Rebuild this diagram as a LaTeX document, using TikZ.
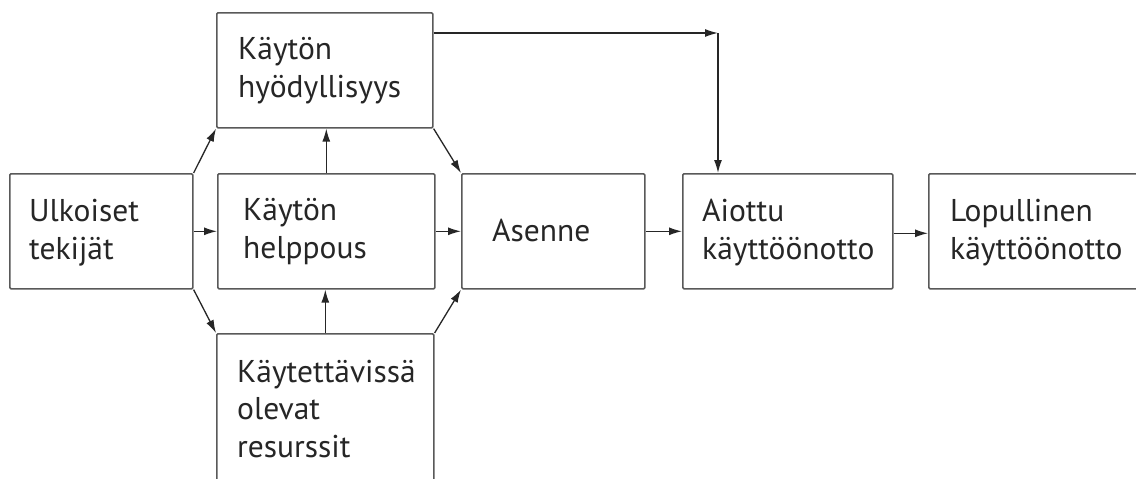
\documentclass[tikz,border=0pt]{standalone}
\usepackage{fontspec}
\setmainfont{PT Sans}
\usetikzlibrary{arrows.meta}
\tikzset{
  box/.style={draw=black!65, line width=1.6pt, rounded corners=1.2pt, anchor=north west, inner sep=0pt, minimum height=115pt},
  txt/.style={inner sep=0pt, anchor=base west, align=left, text=black!85, font=\fontsize{31.5}{37.5}\selectfont},
  arr/.style={draw=black!85, line width=1.3pt, -{Latex[length=13pt,width=8pt]}},
}
\begin{document}
\begin{tikzpicture}[x=1pt,y=-1pt]
\useasboundingbox (0,0) rectangle (1136,479);
\clip (0,0) rectangle (1136,479);
\fill[white] (0,0) rectangle (1136,479);
% boxes
\node[box, minimum width=183pt] (ulk) at (9,173) {};
\node[box, minimum width=216pt] (hyo) at (216,12) {};
\node[box, minimum width=217pt] (hel) at (217,173) {};
\node[box, minimum width=183pt] (ase) at (461,173) {};
\node[box, minimum width=210pt] (aio) at (682,173) {};
\node[box, minimum width=230pt] (lop) at (928,173) {};
\node[box, minimum width=217pt, minimum height=170pt] (kay) at (216,333) {};
% texts (anchor = baseline of last line)
\node[txt] (ulkT) at (29,259) {Ulkoiset\\tekijät};
\node[txt] (hyoT) at (238,97) {Käytön\\hyödyllisyys};
\node[txt] (helT) at (243,258) {Käytön\\helppous};
\node[txt] (aseT) at (492,241) {Asenne};
\node[txt] (aioT) at (702,259) {Aiottu\\käyttöönotto};
\node[txt] (lopT) at (950,259) {Lopullinen\\käyttöönotto};
\node[txt] (kayT) at (237,457) {Käytettävissä\\olevat\\resurssit};
% connectors
\coordinate (c) at (718,33);
\draw[arr] (ulk.north east) -- (hyo.south west);
\draw[arr] (hyo.south east) -- (ase.north west);
\draw[arr] (ulk.south east) -- (kay.north west);
\draw[arr] (kay.north east) -- (ase.south west);
\draw[arr] (hel.north) -- (hel.north |- hyo.south);
\draw[arr] (kay.north) -- (kay.north |- hel.south);
\draw[arr] (ulk.east) -- (hel.west);
\draw[arr] (hel.east) -- (ase.west);
\draw[arr] (ase.east) -- (aio.west);
\draw[arr] ([yshift=-2pt]aio.east) -- ([yshift=-2pt]lop.west);
\draw[arr] (hyo.east |- c) -- (c);
\draw[arr] (c) -- (c |- aio.north);
\end{tikzpicture}
\end{document}
